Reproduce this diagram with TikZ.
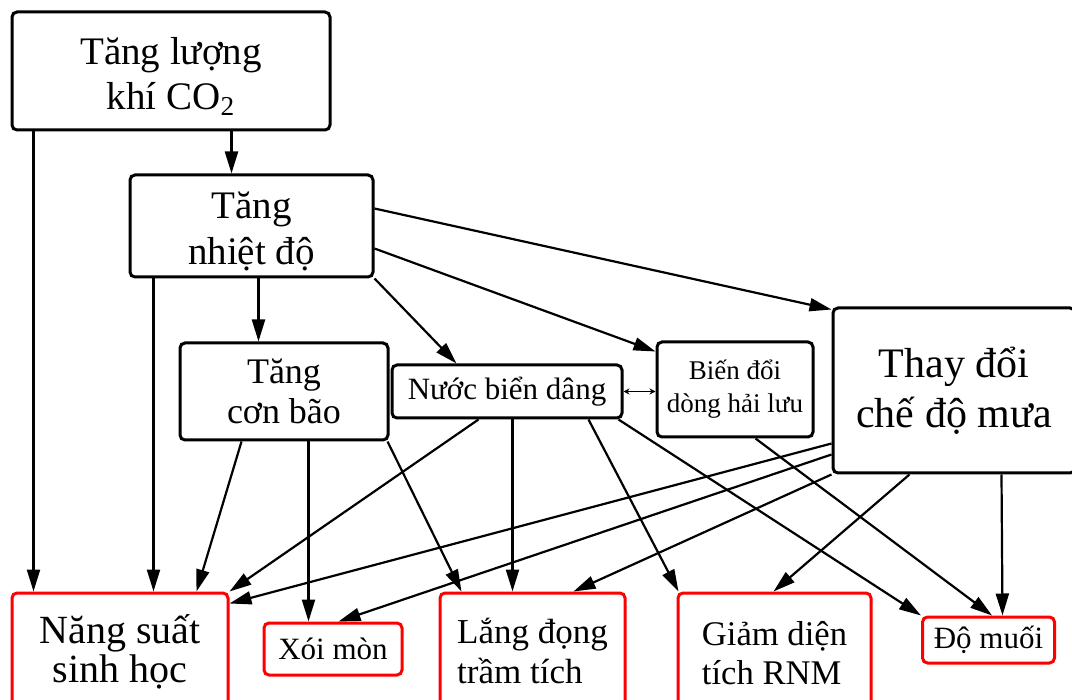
\documentclass[tikz,border=0pt]{standalone}
\usepackage{fontspec}
\setmainfont{Liberation Serif}
\usetikzlibrary{arrows.meta}

\begin{document}
\begin{tikzpicture}[x=0.5pt, y=-0.5pt, >={Triangle[length=11pt, width=6.5pt]},
  box/.style={draw, line width=1.5pt, rounded corners=2.5pt, align=center, inner sep=0pt},
  ketqua/.style={box, draw=red},
  fs/.style 2 args={font=\fontsize{#1}{#2}\selectfont}]
   \useasboundingbox (0,0) rectangle (1072,700);

   % nguyen nhan
   \node[box, fs={19.5}{22.5}, minimum width=159pt, minimum height=59pt] (co2) at (171,71) {\rule{0pt}{19pt}Tăng lượng\\khí CO\textsubscript{2}};
   \node[box, fs={19.5}{23}, minimum width=121.5pt, minimum height=51pt] (nhietdo) at (251.5,226) {\rule{0pt}{19pt}Tăng\\nhiệt độ};

   % tac dong trung gian
   \node[box, fs={18}{20}, minimum width=104pt, minimum height=48.5pt] (bao) at (284,391.5) {Tăng\\cơn bão};
   \node[box, fs={15.5}{18}, minimum width=115pt, minimum height=26.5pt] (nuocbien) at (507,391.5) {Nước biển dâng};
   \node[box, fs={13.5}{16.5}, minimum width=78pt, minimum height=47.5pt] (hailuu) at (735,389.5) {Biến đổi\\dòng hải lưu};
   \node[box, fs={21}{25}, minimum width=121pt, minimum height=82.5pt] (mua) at (954,390.5) {Thay đổi\\chế độ mưa};

   % ket qua (vien do)
   \node[ketqua, fs={20}{19.5}, minimum width=108pt, minimum height=59pt] (nangsuat) at (120,652) {Năng suất\\sinh học};
   \node[ketqua, fs={15.5}{18}, minimum width=69pt, minimum height=26pt] (xoimon) at (333,649) {Xói mòn};
   \node[ketqua, fs={17.5}{20}, align=left, minimum width=92.5pt, minimum height=57.5pt] (langdong) at (532.5,650.5) {Lắng đọng\\trầm tích};
   \node[ketqua, fs={17.3}{19.5}, align=left, minimum width=96.5pt, minimum height=60pt] (rnm) at (774.5,653) {Giảm diện\\tích RNM};
   \node[ketqua, fs={15.5}{18}, minimum width=66pt, minimum height=23pt] (muoi) at (988.5,640) {Độ muối};

   \path[->, line width=1.1pt]
    % tu CO2
    ([xshift=11.5pt]co2.south west) edge ([xshift=11.5pt]nangsuat.north west)
    ([xshift=110.5pt]co2.south west) edge ([xshift=51.5pt]nhietdo.north west)

    % tu nhiet do
    ([xshift=12.5pt]nhietdo.south west) edge ([xshift=71.5pt]nangsuat.north west)
    ([xshift=65pt]nhietdo.south west) edge ([xshift=40pt]bao.north west)
    (nhietdo.south east) edge ([xshift=33pt]nuocbien.north west)
    ([yshift=-37.5pt]nhietdo.north east) edge ([yshift=-5.5pt]hailuu.north west)
    ([yshift=-17.5pt]nhietdo.north east) edge ([yshift=-1.5pt]mua.north west)

    % tu con bao
    ([xshift=31.5pt]bao.south west) edge ([xshift=93pt]nangsuat.north west)
    ([xshift=65pt]bao.south west) edge ([xshift=23pt]xoimon.north west)
    ([xshift=-1pt]bao.south east) edge ([xshift=11.5pt]langdong.north west)

    % tu nuoc bien dang
    (nuocbien.east) edge [<->, line width=0.5pt, >={Stealth[length=3pt, width=3pt]}] (nuocbien.east -| hailuu.west)
    ([xshift=44pt]nuocbien.south west) edge (nangsuat.north east)
    ([xshift=61pt]nuocbien.south west) edge ([xshift=37pt]langdong.north west)
    ([xshift=99pt]nuocbien.south west) edge ([xshift=1pt]rnm.north west)
    ([xshift=-2.5pt]nuocbien.south east) edge (muoi.north west)

    % tu hai luu
    ([xshift=50pt]hailuu.south west) edge ([xshift=1.75pt]muoi.north)

    % tu che do mua
    ([yshift=15.5pt]mua.south west) edge ([yshift=-6pt]nangsuat.north east)
    ([yshift=10pt]mua.south west) edge ([xshift=38pt]xoimon.north west)
    (mua.south west) edge ([xshift=67.5pt]langdong.north west)
    ([xshift=39pt]mua.south west) edge ([xshift=48.5pt]rnm.north west)
    ([xshift=85pt]mua.south west) edge ([xshift=7pt]muoi.north)
    ;
\end{tikzpicture}
\end{document}
